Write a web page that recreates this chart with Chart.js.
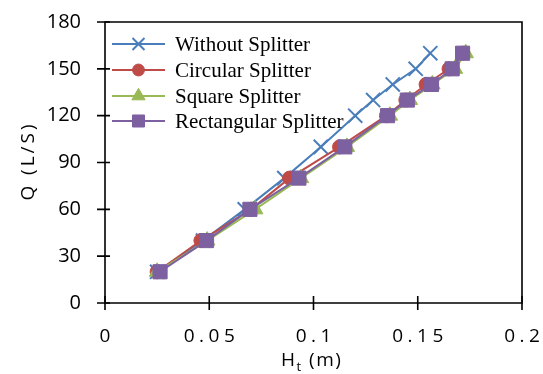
<!DOCTYPE html>
<html>
<head>
<meta charset="utf-8">
<script src="https://cdn.jsdelivr.net/npm/chart.js@4/dist/chart.umd.min.js"></script>
<style>
  html, body { margin: 0; padding: 0; background: #fff; }
</style>
</head>
<body>
<canvas id="splitterChart" width="543" height="374"></canvas>
<script>
// discharge Q (L/S) for each measured point
const qValues = [20, 40, 60, 80, 100, 120, 130, 140, 150, 160];
// head Ht (m)
const hWithout = [0.025, 0.047, 0.067, 0.086, 0.1035, 0.12, 0.1286, 0.138, 0.149, 0.156];
const hCircular = [0.025, 0.046, 0.07, 0.0885, 0.1125, 0.135, 0.1443, 0.154, 0.165, 0.1715];
const hSquare = [0.025, 0.049, 0.072, 0.094, 0.116, 0.1366, 0.1462, 0.157, 0.1678, 0.173];
const hRect = [0.0264, 0.0487, 0.0695, 0.093, 0.115, 0.1355, 0.145, 0.1566, 0.1665, 0.1715];

const seriesNames = ["Without Splitter", "Circular Splitter", "Square Splitter", "Rectangular Splitter"];
const xTicks = [0, 0.05, 0.1, 0.15, 0.2];
const yTicks = [0, 30, 60, 90, 120, 150, 180];

const tickFont = "Open Sans";
const textColor = "#000";

function toPoints(hs) {
    return hs.map((h, i) => ({ x: h, y: qValues[i] }));
}

// text drawn char by char so the spacing looks like the original
function spacedWidth(ctx, txt, sp) {
    let w = 0;
    for (const ch of txt) w += ctx.measureText(ch).width;
    return w + sp * (txt.length - 1);
}
function spacedText(ctx, txt, x, y, sp) {
    for (const ch of txt) {
        ctx.fillText(ch, x, y);
        x += ctx.measureText(ch).width + sp;
    }
    return x;
}

// frame, crossing tick marks, x labels, titles and legend
const extrasPlugin = {
    id: "extras",
    afterDraw(chart) {
        const ctx = chart.ctx;
        const area = chart.chartArea;
        const xs = chart.scales.x;
        const ys = chart.scales.y;
        ctx.save();
        ctx.strokeStyle = "#000";
        ctx.lineWidth = 1.6;
        ctx.beginPath();
        ctx.rect(area.left, area.top, area.right - area.left, area.bottom - area.top);
        ctx.stroke();

        ctx.beginPath();
        yTicks.forEach((v) => {
            const py = ys.getPixelForValue(v);
            ctx.moveTo(area.left - 8, py);
            ctx.lineTo(area.left + 5, py);
        });
        xTicks.forEach((v) => {
            const px = xs.getPixelForValue(v);
            ctx.moveTo(px, area.bottom - 7);
            ctx.lineTo(px, area.bottom + 7);
        });
        ctx.stroke();

        ctx.fillStyle = textColor;
        ctx.font = "19px '" + tickFont + "'";
        ctx.textBaseline = "alphabetic";
        ctx.textAlign = "left";
        const sp = 4.5;
        xTicks.forEach((v) => {
            const txt = String(v);
            const w = spacedWidth(ctx, txt, sp);
            spacedText(ctx, txt, xs.getPixelForValue(v) - w / 2, 341.5, sp);
        });

        // x title with subscript
        ctx.font = "19px '" + tickFont + "'";
        let tx = spacedText(ctx, "H", 281, 365.5, 1.5);
        ctx.font = "13px '" + tickFont + "'";
        tx = spacedText(ctx, "t", tx, 371, 1.5);
        ctx.font = "19px '" + tickFont + "'";
        spacedText(ctx, " (m)", tx, 365.5, 1.5);

        // y title, rotated
        ctx.save();
        ctx.font = "19px '" + tickFont + "'";
        const ysp = 3;
        const yw = spacedWidth(ctx, "Q (L/S)", ysp);
        ctx.translate(34, (area.top + area.bottom) / 2);
        ctx.rotate(-Math.PI / 2);
        spacedText(ctx, "Q (L/S)", -yw / 2, 0, ysp);
        ctx.restore();

        // legend
        const rows = [44, 70, 96, 121];
        chart.data.datasets.forEach((ds, i) => {
            const y = rows[i];
            ctx.strokeStyle = ds.borderColor;
            ctx.lineWidth = ds.borderWidth;
            ctx.beginPath();
            ctx.moveTo(112, y);
            ctx.lineTo(165, y);
            ctx.stroke();
            ctx.fillStyle = ds.pointBackgroundColor;
            ctx.strokeStyle = ds.pointBorderColor;
            ctx.lineWidth = ds.pointBorderWidth || 1;
            Chart.helpers.drawPoint(ctx, {
                pointStyle: ds.pointStyle,
                radius: ds.pointRadius * 0.85,
                borderWidth: ds.pointBorderWidth || 1,
                rotation: 0
            }, 138.5, y);
            ctx.fillStyle = textColor;
            ctx.font = "21px 'Liberation Serif'";
            ctx.textBaseline = "middle";
            ctx.fillText(ds.label, 175, y + 1);
            ctx.textBaseline = "alphabetic";
        });
        ctx.restore();
    }
};

function series(label, hs, color, style, radius, order, extra) {
    return Object.assign({
        label: label,
        data: toPoints(hs),
        borderColor: color,
        backgroundColor: color,
        borderWidth: 2,
        pointStyle: style,
        pointRadius: radius,
        pointHoverRadius: radius,
        pointBackgroundColor: color,
        pointBorderColor: color,
        pointBorderWidth: 1,
        showLine: true,
        tension: 0,
        order: order,
    }, extra || {});
}

function drawChart() {
    new Chart(document.getElementById("splitterChart"), {
        type: "scatter",
        data: {
            datasets: [
                series(seriesNames[0], hWithout, "#4A7EBB", "crossRot", 10, 3, { pointBorderWidth: 2 }),
                series(seriesNames[1], hCircular, "#BE4B48", "circle", 7, 2),
                series(seriesNames[2], hSquare, "#98B954", "triangle", 9, 1),
                series(seriesNames[3], hRect, "#7D60A0", "rect", 10, 0),
            ],
        },
        options: {
            responsive: false,
            animation: false,
            layout: { padding: { left: 0, top: 22, right: 21, bottom: 0 } },
            plugins: {
                legend: { display: false },
                tooltip: { enabled: false },
            },
            scales: {
                x: {
                    type: "linear",
                    min: 0,
                    max: 0.2,
                    ticks: { display: false, stepSize: 0.05 },
                    grid: { display: false },
                    border: { display: false },
                    afterFit: (scale) => {
                        scale.height = 71;
                        scale.paddingLeft = 0;
                        scale.paddingRight = 0;
                    },
                },
                y: {
                    type: "linear",
                    min: 0,
                    max: 180,
                    afterBuildTicks: (scale) => { scale.ticks = yTicks.map((v) => ({ value: v })); },
                    ticks: {
                        color: textColor,
                        padding: 16,
                        font: { family: tickFont, size: 20 },
                    },
                    grid: { display: false },
                    border: { display: false },
                    afterFit: (scale) => {
                        scale.width = 105;
                        scale.paddingTop = 0;
                        scale.paddingBottom = 0;
                    },
                },
            },
        },
        plugins: [extrasPlugin],
    });
}

if (document.fonts && document.fonts.load) {
    Promise.all([
        document.fonts.load("19px 'Open Sans'"),
        document.fonts.load("21px 'Liberation Serif'"),
    ]).then(drawChart, drawChart);
} else {
    drawChart();
}
</script>
</body>
</html>
